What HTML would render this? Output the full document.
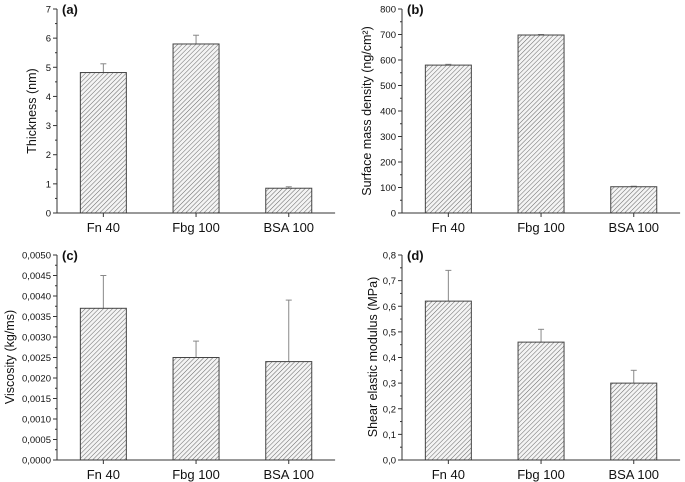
<!DOCTYPE html>
<html><head><meta charset="utf-8"><style>
body{margin:0;background:#fff}
svg{display:block;font-family:"Liberation Sans",Arial,sans-serif}
</style></head><body>
<svg id="fig" width="685" height="482" viewBox="0 0 685 482">
<defs>
<pattern id="hatch" patternUnits="userSpaceOnUse" width="3.2" height="3.2" patternTransform="rotate(45)">
<rect width="3.2" height="3.2" fill="#f4f4f4"/>
<line x1="0" y1="0" x2="0" y2="3.2" stroke="#666" stroke-width="1"/>
</pattern>
</defs>
</svg>
<script>
const categories = ["Fn 40", "Fbg 100", "BSA 100"];
const thicknessValues = [4.82, 5.8, 0.85];
const thicknessErrors = [0.3, 0.3, 0.05];
const densityValues = [580, 698, 103];
const densityErrors = [3, 2, 2];
const viscosityValues = [0.0037, 0.0025, 0.0024];
const viscosityErrors = [0.0008, 0.0004, 0.0015];
const modulusValues = [0.62, 0.46, 0.30];
const modulusErrors = [0.12, 0.05, 0.05];
const thicknessTicks = ["0","1","2","3","4","5","6","7"];
const densityTicks = ["0","100","200","300","400","500","600","700","800"];
const viscosityTicks = ["0,0000","0,0005","0,0010","0,0015","0,0020","0,0025","0,0030","0,0035","0,0040","0,0045","0,0050"];
const modulusTicks = ["0,0","0,1","0,2","0,3","0,4","0,5","0,6","0,7","0,8"];

const NS = "http://www.w3.org/2000/svg";
const svg = document.getElementById("fig");
function mk(tag, attrs, parent){const e=document.createElementNS(NS,tag);for(const k in attrs)e.setAttribute(k,attrs[k]);(parent||svg).appendChild(e);return e;}

const panels = [
 {id:"a", x0:57, y0:213, yTop:9, max:7, ticks:thicknessTicks, vals:thicknessValues, errs:thicknessErrors, title:"Thickness (nm)", tx:32, tyc:111},
 {id:"b", x0:402, y0:213, yTop:9, max:800, ticks:densityTicks, vals:densityValues, errs:densityErrors, title:"Surface mass density (ng/cm²)", tx:367, tyc:111},
 {id:"c", x0:57, y0:460, yTop:255, max:0.005, ticks:viscosityTicks, vals:viscosityValues, errs:viscosityErrors, title:"Viscosity (kg/ms)", tx:10, tyc:357},
 {id:"d", x0:402, y0:460, yTop:255, max:0.8, ticks:modulusTicks, vals:modulusValues, errs:modulusErrors, title:"Shear elastic modulus (MPa)", tx:373, tyc:357}
];

panels.forEach(p=>{
 const g = mk("g",{});
 
 
 const band = 92.7;
 const xEnd = p.x0 + band*categories.length;
 const y = v => p.y0 - (v/p.max)*(p.y0-p.yTop);
 const nT = p.ticks.length-1;
 p.vals.forEach((v,i)=>{
  const cx = p.x0 + band*(i+0.5);
  const bw = 46;
  const top = y(v);
  const eTop = y(v+p.errs[i]);
  const ln = mk("line",{x1:cx,x2:cx,y1:top,y2:eTop,stroke:"#888","stroke-width":1},g);
  
  
  mk("line",{x1:cx-3,x2:cx+3,y1:eTop,y2:eTop,stroke:"#888","stroke-width":1},g);
  const r = mk("rect",{x:cx-bw/2,y:top,width:bw,height:p.y0-top,fill:"url(#hatch)",stroke:"#444","stroke-width":1},g);
  
  
  const t = mk("text",{x:cx,y:p.y0+19,"text-anchor":"middle","font-size":13,fill:"#111"},g);
  t.textContent = categories[i];
  
  
  mk("line",{x1:cx,x2:cx,y1:p.y0,y2:p.y0+4,stroke:"#333"},g);
 });
 const ax = mk("path",{d:`M${p.x0},${p.yTop}V${p.y0}H${xEnd}`,fill:"none",stroke:"#333","stroke-width":1},g);
 
 
 p.ticks.forEach((lab,i)=>{
  const ty = p.y0 - i*(p.y0-p.yTop)/nT;
  mk("line",{x1:p.x0-4,x2:p.x0,y1:ty,y2:ty,stroke:"#333"},g);
  if(i<nT){const my=ty-(p.y0-p.yTop)/nT/2; mk("line",{x1:p.x0-2,x2:p.x0,y1:my,y2:my,stroke:"#333"},g);}
  const t = mk("text",{x:p.x0-6,y:ty+3.5,"text-anchor":"end","font-size":9.5,fill:"#111"},g);
  t.textContent = lab;
  
  
 });
 const tt = mk("text",{x:p.tx+4,y:p.tyc,"text-anchor":"middle","font-size":12.5,fill:"#111",transform:`rotate(-90 ${p.tx+4} ${p.tyc})`},g);
 tt.textContent = p.title;
 
 
 const pl = mk("text",{x:p.x0+5,y:p.yTop+5,"font-size":13,"font-weight":"bold",fill:"#111"},g);
 pl.textContent = "("+p.id+")";
 
 
});
</script>
</body></html>
